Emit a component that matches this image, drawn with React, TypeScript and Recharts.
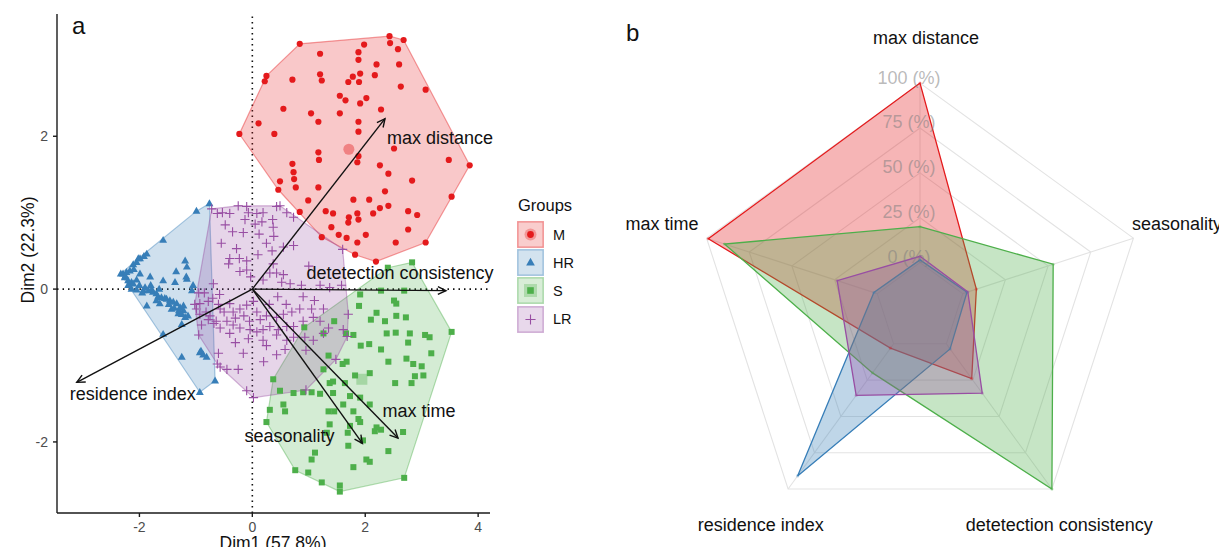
import React from "react";
import {
  ScatterChart,
  Scatter,
  XAxis,
  YAxis,
  ReferenceLine,
  RadarChart,
  Radar,
  PolarGrid,
  PolarAngleAxis,
  PolarRadiusAxis,
} from "recharts";

type Pt = { x: number; y: number };
const P = (list: number[][]): Pt[] => list.map(([x, y]) => ({ x, y }));

// groups of panel a
const groupNames = ["M", "HR", "S", "LR"];
const groupColors: Record<string, string> = {
  M: "#E41A1C",
  HR: "#377EB8",
  S: "#4DAF4A",
  LR: "#984EA3",
};

// individuals (Dim1, Dim2)
const pointsM = P([
  [0.84, 3.21], [2.43, 3.31], [2.68, 3.26], [2.44, 3.22], [1.98, 3.2], [1.2, 3.08], [1.88, 3.1], [2.58, 3.14],
  [1.88, 3.0], [2.6, 2.94], [2.2, 2.94], [0.25, 2.79], [0.22, 2.72], [0.71, 2.74], [1.2, 2.81], [1.23, 2.73],
  [1.91, 2.82], [2.17, 2.8], [1.7, 2.71], [1.89, 2.71], [1.78, 2.78], [2.63, 2.65], [3.07, 2.61], [1.55, 2.53],
  [1.65, 2.47], [2.02, 2.5], [1.91, 2.43], [0.55, 2.36], [1.04, 2.3], [1.55, 2.3], [2.28, 2.35], [0.11, 2.17],
  [1.17, 2.19], [1.88, 2.19], [-0.23, 2.03], [0.39, 2.03], [1.88, 2.06], [2.51, 1.84], [1.17, 1.79], [1.18, 1.69],
  [1.88, 1.74], [1.86, 1.66], [3.48, 1.69], [3.85, 1.62], [0.71, 1.64], [0.73, 1.53], [2.26, 1.62], [0.74, 1.44],
  [2.41, 1.51], [0.49, 1.41], [0.77, 1.33], [1.17, 1.33], [2.83, 1.42], [2.35, 1.28], [3.53, 1.21], [0.46, 1.3],
  [2.07, 1.17], [0.99, 1.16], [1.79, 1.17], [2.41, 1.09], [2.26, 1.06], [0.84, 1.01], [1.3, 1.02], [1.43, 0.99],
  [1.86, 0.99], [1.71, 0.94], [1.7, 0.87], [2.14, 0.99], [2.76, 1.02], [2.92, 0.97], [1.4, 0.81], [1.88, 0.91],
  [2.76, 0.78], [1.23, 0.68], [1.53, 0.71], [1.67, 0.67], [2.01, 0.71], [1.86, 0.61], [2.54, 0.61], [3.07, 0.61],
  [1.82, 0.45], [2.19, 0.36],
]);

const pointsHR = P([
  [-0.76, 1.12], [-0.99, 1.02], [-1.58, 0.64], [-1.87, 0.46], [-1.99, 0.4], [-2.05, 0.35], [-2.11, 0.32], [-2.17, 0.24],
  [-2.23, 0.22], [-2.29, 0.2], [-2.33, 0.2], [-2.26, 0.15], [-2.2, 0.11], [-2.14, 0.09], [-1.99, 0.2], [-1.81, 0.16],
  [-1.58, 0.11], [-1.37, 0.09], [-1.16, 0.29], [-1.16, 0.13], [-1.05, 0.05], [-2.14, 0.0], [-2.05, -0.01], [-1.93, -0.02],
  [-1.84, -0.02], [-1.76, -0.04], [-1.67, -0.1], [-1.61, -0.11], [-1.52, -0.13], [-1.46, -0.15], [-1.4, -0.17], [-1.34, -0.19],
  [-1.28, -0.24], [-1.22, -0.22], [-1.22, -0.28], [-1.31, -0.32], [-1.19, -0.37], [-1.14, -0.35], [-1.43, -0.26], [-1.64, -0.19],
  [-1.87, -0.22], [-1.58, -0.59], [-1.25, -0.46], [-0.93, -0.83], [-0.81, -0.89], [-1.25, -0.89], [-0.66, -1.2], [-0.93, -1.35],
  [-1.07, -0.02], [-1.78, -0.01], [-2.11, 0.07], [-1.92, 0.43], [-2.02, 0.4], [-1.19, 0.37], [-1.17, 0.16], [-1.35, 0.23],
  [-2.0, 0.05], [-1.9, 0.02], [-1.7, -0.06], [-1.55, -0.12], [-1.48, -0.2], [-1.38, -0.25], [-1.3, -0.28], [-1.25, -0.33],
  [-2.25, 0.17], [-2.2, 0.05], [-2.05, 0.12], [-1.95, -0.05], [-1.8, 0.05], [-1.65, 0.0], [-1.7, -0.15], [-2.1, 0.26],
  [-0.87, -0.86], [-0.91, -0.81],
]);

const pointsS = P([
  [2.4, 0.28], [2.83, 0.35], [1.91, -0.07], [1.89, -0.22], [2.28, -0.02], [2.69, -0.02], [2.51, -0.15], [2.55, -0.19],
  [2.2, -0.31], [2.1, -0.4], [2.35, -0.42], [2.55, -0.35], [2.72, -0.37], [2.38, -0.58], [2.54, -0.57], [2.79, -0.58],
  [2.76, -0.7], [3.06, -0.6], [3.14, -0.63], [3.53, -0.56], [1.79, -0.6], [1.66, -0.58], [1.45, -0.42], [1.26, -0.58],
  [0.92, -0.5], [2.07, -0.72], [1.92, -0.74], [2.28, -0.79], [2.41, -0.95], [2.73, -0.91], [2.85, -0.98], [3.0, -1.01],
  [3.17, -0.84], [1.67, -0.95], [1.6, -0.98], [1.35, -0.87], [2.88, -1.14], [3.03, -1.13], [2.82, -1.23], [2.53, -1.23],
  [2.08, -1.1], [1.82, -1.13], [1.64, -1.23], [1.43, -1.21], [1.26, -1.05], [0.37, -1.18], [0.49, -1.33], [0.73, -1.36],
  [0.9, -1.35], [1.05, -1.35], [1.2, -1.37], [1.37, -1.23], [1.43, -1.36], [1.73, -1.4], [1.91, -1.42], [2.08, -1.51],
  [1.61, -1.51], [1.45, -1.6], [1.35, -1.6], [1.79, -1.6], [1.88, -1.7], [1.91, -1.74], [1.73, -1.79], [2.2, -1.81],
  [2.17, -1.86], [2.28, -1.84], [2.67, -1.87], [2.41, -2.12], [1.96, -1.98], [1.69, -1.88], [1.7, -2.05], [1.37, -1.77],
  [1.32, -1.88], [0.55, -1.51], [0.58, -1.6], [0.31, -1.58], [0.25, -1.74], [1.11, -2.14], [1.05, -2.23], [0.76, -2.37],
  [0.99, -2.4], [2.02, -2.23], [2.08, -2.26], [1.79, -2.33], [2.69, -2.47], [1.23, -2.53], [1.55, -2.57], [1.55, -2.65],
]);

const pointsLR = P([
  [-0.62, 0.99], [-0.53, 1.0], [-0.4, 0.99], [-0.25, 1.09], [-0.1, 1.08], [-0.07, 1.0], [0.08, 0.99], [0.19, 1.0],
  [0.43, 1.08], [0.49, 1.09], [0.61, 1.0], [-0.13, 0.91], [0.17, 0.88], [0.36, 0.91], [-0.48, 0.84], [-0.16, 0.74],
  [0.37, 0.81], [0.12, 0.72], [0.38, 0.69], [0.73, 0.57], [-0.28, 0.53], [-0.4, 0.4], [-0.23, 0.4], [-0.1, 0.37],
  [-0.42, 0.33], [0.37, 0.33], [0.43, 0.21], [0.55, 0.19], [0.31, 0.21], [0.19, 0.12], [-0.22, 0.23], [-0.1, 0.25],
  [-0.03, 0.16], [0.52, 0.09], [0.67, 0.07], [0.87, 0.05], [1.2, 0.05], [1.37, 0.02], [1.58, 0.05], [-0.69, 0.07],
  [-0.58, -0.07], [-0.78, -0.16], [-0.93, -0.19], [-0.99, -0.26], [-0.93, -0.33], [-0.75, -0.35], [-0.57, -0.26], [-0.4, -0.19],
  [-0.34, -0.3], [-0.22, -0.26], [-0.1, -0.21], [0.02, -0.16], [0.08, -0.3], [0.14, -0.4], [0.25, -0.35], [0.43, -0.37],
  [0.55, -0.33], [0.7, -0.3], [0.84, -0.26], [1.05, -0.26], [1.26, -0.26], [1.08, -0.37], [0.9, -0.42], [0.73, -0.49],
  [0.61, -0.49], [0.46, -0.53], [0.31, -0.49], [0.19, -0.53], [0.08, -0.56], [-0.04, -0.53], [-0.22, -0.51], [-0.34, -0.47],
  [-0.45, -0.42], [-0.57, -0.51], [-0.64, -0.42], [-0.78, -0.4], [-0.9, -0.47], [-0.4, -0.58], [-0.07, -0.65], [0.19, -0.67],
  [0.43, -0.6], [0.61, -0.67], [0.73, -0.63], [0.93, -0.63], [1.08, -0.67], [1.35, -0.51], [1.61, -0.53], [1.7, -0.33],
  [1.26, -0.58], [0.58, -0.79], [0.43, -0.86], [0.25, -0.74], [-0.16, -0.84], [-0.6, -0.84], [-0.57, -1.02], [-0.45, -1.05],
  [-0.1, -1.33], [0.02, -1.42], [-0.85, -0.05], [-0.7, -0.12], [-0.6, -0.2], [-0.5, -0.3], [-0.3, -0.38], [-0.15, -0.35],
  [-0.05, -0.42], [0.3, -0.2], [0.45, -0.1], [0.6, -0.2], [0.9, -0.1], [1.1, -0.15], [0.35, 0.5], [0.1, 0.45],
  [0.55, 0.55], [-0.55, 0.6], [-0.35, 0.75], [0.05, 0.85], [0.25, 0.6], [1.0, 0.3], [-0.95, -0.05], [-0.82, -0.3],
  [-0.68, -0.45], [1.2, -0.42], [0.95, -0.8], [0.2, -0.95], [-0.3, -0.7], [-0.25, -1.05], [0.73, 0.94], [1.6, 0.52],
  [1.68, -0.62], [1.48, -0.92], [0.95, -1.32], [-1.02, -0.2], [-0.95, -0.6], [-0.62, -0.98], [-0.72, 1.05],
]);

const groupPoints: Record<string, Pt[]> = { M: pointsM, HR: pointsHR, S: pointsS, LR: pointsLR };

// group means that show through
const centroidM = P([[1.71, 1.83]]);
const centroidS = P([[1.94, -1.18]]);

// variable loadings (arrows)
const loadingNames = ["max distance", "detetection consistency", "max time", "seasonality", "residence index"];
const loadingX = [2.35, 3.43, 2.58, 1.95, -3.11];
const loadingY = [2.23, -0.02, -1.95, -2.02, -1.22];
// label offset from the arrow tip, px
const loadingLabelDx = [55, -46, 21, -73, 56];
const loadingLabelDy = [19, -18, -27, -7, 12];

// panel b
const radarAxes = ["max distance", "seasonality", "detetection consistency", "residence index", "max time"];
const radarM = [100, 8, 24, 3, 99];
const radarHR = [1.5, 2.5, 3.5, 91, 2];
const radarS = [20, 53, 100, 20, 89.5];
const radarLR = [3.5, 3, 34, 35.5, 23.5];
const radarTicks = [0, 25, 50, 75, 100];

const radarData = radarAxes.map((axis, i) => ({
  axis,
  M: radarM[i],
  HR: radarHR[i],
  S: radarS[i],
  LR: radarLR[i],
}));

const FONT = '"Liberation Sans", Arial, Helvetica, sans-serif';

// convex hull (monotone chain)
const hull = (pts: Pt[]): Pt[] => {
  const p = [...pts].sort((a, b) => a.x - b.x || a.y - b.y);
  const cross = (o: Pt, a: Pt, b: Pt) => (a.x - o.x) * (b.y - o.y) - (a.y - o.y) * (b.x - o.x);
  const lower: Pt[] = [];
  for (const q of p) {
    while (lower.length >= 2 && cross(lower[lower.length - 2], lower[lower.length - 1], q) <= 0) lower.pop();
    lower.push(q);
  }
  const upper: Pt[] = [];
  for (const q of [...p].reverse()) {
    while (upper.length >= 2 && cross(upper[upper.length - 2], upper[upper.length - 1], q) <= 0) upper.pop();
    upper.push(q);
  }
  return lower.slice(0, -1).concat(upper.slice(0, -1));
};

const HullShape = (props: any) => {
  const pts = (props.points || []).filter((p: any) => p && p.x != null && p.y != null);
  if (!pts.length) return null;
  return (
    <polygon
      points={pts.map((p: any) => `${p.x},${p.y}`).join(" ")}
      fill={props.hullColor}
      fillOpacity={0.24}
      stroke={props.hullColor}
      strokeOpacity={0.42}
      strokeWidth={1.2}
    />
  );
};

const ArrowShape = (props: any) => {
  const pts = props.points || [];
  if (pts.length < 2) return null;
  const a = pts[0];
  const b = pts[1];
  const ang = Math.atan2(b.y - a.y, b.x - a.x);
  const h = 9;
  const sp = Math.PI / 7;
  const h1 = `${b.x - h * Math.cos(ang - sp)},${b.y - h * Math.sin(ang - sp)}`;
  const h2 = `${b.x - h * Math.cos(ang + sp)},${b.y - h * Math.sin(ang + sp)}`;
  return (
    <g>
      <line x1={a.x} y1={a.y} x2={b.x} y2={b.y} stroke="#111" strokeWidth={1.4} />
      <polyline points={`${h1} ${b.x},${b.y} ${h2}`} fill="none" stroke="#111" strokeWidth={1.4} />
      <text
        x={b.x + props.labelDx}
        y={b.y + props.labelDy}
        textAnchor="middle"
        dominantBaseline="central"
        fontSize={18}
        fill="#111"
      >
        {props.arrowText}
      </text>
    </g>
  );
};

const symbolFor = (g: string, size = 1) => (p: any) => {
  const c = groupColors[g];
  const { cx, cy } = p;
  if (g === "M") return <circle cx={cx} cy={cy} r={3.1 * size} fill={c} />;
  if (g === "HR") {
    const s = 4.3 * size;
    return <polygon points={`${cx},${cy - s} ${cx - s * 0.92},${cy + s * 0.62} ${cx + s * 0.92},${cy + s * 0.62}`} fill={c} />;
  }
  if (g === "S") return <rect x={cx - 3 * size} y={cy - 3 * size} width={6 * size} height={6 * size} fill={c} />;
  const r = 4.6 * size;
  return <path d={`M${cx - r},${cy}H${cx + r}M${cx},${cy - r}V${cy + r}`} stroke={c} strokeWidth={1.1} fill="none" />;
};

const noShape = () => <g />;

const axisStroke = { stroke: "#1a1a1a", strokeWidth: 1.4 };

const BiPlot = () => (
  <ScatterChart width={600} height={555} margin={{ top: 14, right: 110, bottom: 0, left: 0 }}>
    <XAxis
      type="number"
      dataKey="x"
      domain={[-3.46, 4.21]}
      ticks={[-2, 0, 2, 4]}
      height={42}
      tickSize={4}
      tickMargin={5}
      axisLine={axisStroke}
      tickLine={axisStroke}
      tick={{ fill: "#4d4d4d", fontSize: 14 }}
      label={() => (
        <text x={273} y={549} textAnchor="middle" fontSize={17.5} fill="#111">
          Dim1 (57.8%)
        </text>
      )}
    />
    <YAxis
      type="number"
      dataKey="y"
      domain={[-2.93, 3.6]}
      ticks={[-2, 0, 2]}
      width={57}
      tickSize={4}
      tickMargin={5}
      axisLine={axisStroke}
      tickLine={axisStroke}
      tick={{ fill: "#4d4d4d", fontSize: 14 }}
      label={() => (
        <text x={34} y={250} textAnchor="middle" fontSize={17.5} fill="#111" transform="rotate(-90 34 250)">
          Dim2 (22.3%)
        </text>
      )}
    />
    {groupNames.map((g) => (
      <Scatter
        key={`hull-${g}`}
        data={[...hull(groupPoints[g]), hull(groupPoints[g])[0]]}
        shape={noShape}
        line={<HullShape hullColor={groupColors[g]} />}
        isAnimationActive={false}
      />
    ))}
    <ReferenceLine x={0} stroke="#111" strokeWidth={1.6} strokeDasharray="1.5 4" />
    <ReferenceLine y={0} stroke="#111" strokeWidth={1.6} strokeDasharray="1.5 4" />
    <Scatter data={centroidM} shape={(p: any) => <circle cx={p.cx} cy={p.cy} r={5.5} fill="#E41A1C" fillOpacity={0.4} />} isAnimationActive={false} />
    <Scatter data={centroidS} shape={(p: any) => <rect x={p.cx - 5.5} y={p.cy - 5.5} width={11} height={11} fill="#4DAF4A" fillOpacity={0.35} />} isAnimationActive={false} />
    {groupNames.map((g) => (
      <Scatter key={`pts-${g}`} data={groupPoints[g]} shape={symbolFor(g)} isAnimationActive={false} />
    ))}
    {loadingNames.map((n, i) => (
      <Scatter
        key={`arrow-${n}`}
        data={[{ x: 0, y: 0 }, { x: loadingX[i], y: loadingY[i] }]}
        shape={noShape}
        line={<ArrowShape arrowText={n} labelDx={loadingLabelDx[i]} labelDy={loadingLabelDy[i]} />}
        isAnimationActive={false}
      />
    ))}
  </ScatterChart>
);

const LegendBox = ({ g }: { g: string }) => {
  const c = groupColors[g];
  const inner = symbolFor(g, 1.1)({ cx: 13.5, cy: 13.5 });
  return (
    <svg width={27} height={27} style={{ display: "block" }}>
      <rect x={0.75} y={0.75} width={25.5} height={25.5} fill={c} fillOpacity={0.22} stroke={c} strokeOpacity={0.4} strokeWidth={1.5} />
      {g === "M" && <circle cx={13.5} cy={13.5} r={6} fill={c} fillOpacity={0.3} />}
      {g === "S" && <rect x={7} y={7} width={13} height={13} fill={c} fillOpacity={0.3} />}
      {inner}
    </svg>
  );
};

// panel b geometry
const R_CX = 320;
const R_CY = 307.5;
const R_OUT = 224.4;
const R_IN = 44.9;
const angleLabelShift = [6, 1, -19, -1, -2];

const AngleTick = (p: any) => {
  const v = p.payload?.value;
  const i = radarAxes.indexOf(v);
  const a = ((90 - 72 * i) * Math.PI) / 180;
  const x = R_CX + 1.2 * R_OUT * Math.cos(a) + angleLabelShift[i];
  const y = R_CY - 1.2 * R_OUT * Math.sin(a);
  return (
    <text x={x} y={y} textAnchor="middle" dominantBaseline="central" fontSize={18} fill="#111">
      {v}
    </text>
  );
};

const RadiusTick = (p: any) => (
  <text
    x={p.x - 11}
    y={p.y - 5.5}
    textAnchor="middle"
    dominantBaseline="central"
    fontSize={18}
    fill="#808080"
    fillOpacity={0.55}
  >
    {`${p.payload?.value} (%)`}
  </text>
);

const radarOrder = ["M", "HR", "S", "LR"];

const RadarPanel = () => (
  <RadarChart
    width={627}
    height={555}
    data={radarData}
    cx={R_CX}
    cy={R_CY}
    innerRadius={R_IN}
    outerRadius={R_OUT}
    margin={{ top: 0, right: 0, bottom: 0, left: 0 }}
  >
    <PolarGrid stroke="#e3e3e3" strokeWidth={1.1} />
    <PolarAngleAxis dataKey="axis" tick={AngleTick} tickLine={false} axisLine={false} />
    {radarOrder.map((g) => (
      <Radar
        key={g}
        dataKey={g}
        stroke={groupColors[g]}
        strokeWidth={1.3}
        fill={groupColors[g]}
        fillOpacity={0.32}
        dot={{ r: 1.6, fill: groupColors[g], stroke: "none" }}
        isAnimationActive={false}
      />
    ))}
    <PolarRadiusAxis
      angle={90}
      domain={[0, 100]}
      ticks={radarTicks}
      tickCount={5}
      tick={RadiusTick}
      axisLine={false}
      tickLine={false}
    />
  </RadarChart>
);

export default function App() {
  return (
    <div
      style={{
        position: "relative",
        width: 1227,
        height: 555,
        margin: -8,
        background: "#fff",
        fontFamily: FONT,
        color: "#111",
        overflow: "hidden",
      }}
    >
      <div style={{ position: "absolute", left: 0, top: 0 }}>
        <BiPlot />
      </div>
      <div style={{ position: "absolute", left: 72, top: 14, fontSize: 24, lineHeight: "24px" }}>a</div>

      <div style={{ position: "absolute", left: 517, top: 194, width: 90 }}>
        <div style={{ fontSize: 16.5, lineHeight: "22px", marginLeft: 1 }}>Groups</div>
        {groupNames.map((g, i) => (
          <div
            key={g}
            style={{ position: "absolute", left: 0, top: 27 + i * 28.2, display: "flex", alignItems: "center" }}
          >
            <LegendBox g={g} />
            <span style={{ marginLeft: 9, fontSize: 14.5 }}>{g}</span>
          </div>
        ))}
      </div>

      <div style={{ position: "absolute", left: 600, top: 0 }}>
        <RadarPanel />
      </div>
      <div style={{ position: "absolute", left: 626, top: 21, fontSize: 24, lineHeight: "24px" }}>b</div>
    </div>
  );
}
